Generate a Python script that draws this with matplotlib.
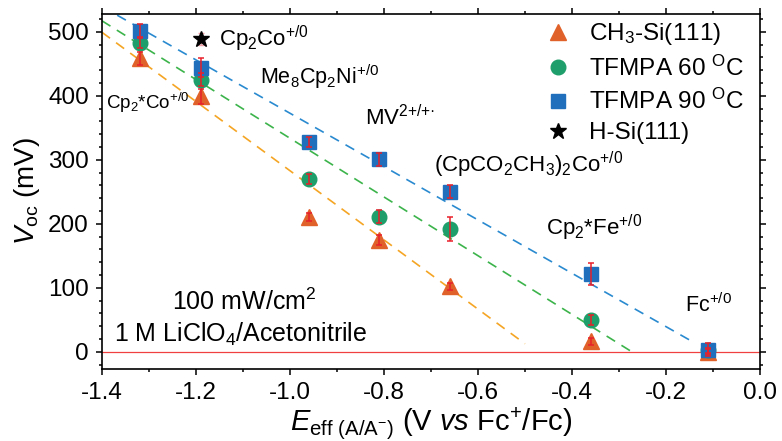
import numpy as np
import matplotlib
matplotlib.use("Agg")
from matplotlib import pyplot as plt

plt.rcParams['font.family'] = ['Liberation Sans', 'DejaVu Sans']
plt.rcParams['mathtext.fontset'] = 'custom'
plt.rcParams['mathtext.rm'] = 'Liberation Sans'
plt.rcParams['mathtext.it'] = 'Liberation Sans:italic'
plt.rcParams['mathtext.bf'] = 'Liberation Sans:bold'

# E_eff of each redox couple (V vs Fc+/Fc)
e_eff = [-1.32, -1.19, -0.96, -0.81, -0.66, -0.36, -0.11]

# Voc (mV) and error bars
ch3_voc = [459, 399, 211, 175, 102, 16, 0]
ch3_err = [10, 12, 6, 8, 6, 6, 4]
tf60_voc = [483, 425, 270, 211, 192, 50, 2]
tf60_err = [8, 10, 8, 10, 19, 8, 4]
tf90_voc = [502, 444, 328, 301, 250, 122, 3]
tf90_err = [10, 15, 8, 10, 10, 17, 10]
hsi_x = [-1.19]
hsi_voc = [489]
hsi_err = [10]

# linear fits: slope (mV/V), zero crossing (V), end of dashed line (V)
fit_slope = [-541, -459, -417]
fit_x0 = [-0.477, -0.273, -0.106]
fit_xend = [-0.50, -0.273, -0.15]
fit_colors = ['#f5a524', '#3cb44b', '#2a8ad0']

xtick_vals = [-1.4, -1.2, -1.0, -0.8, -0.6, -0.4, -0.2, 0.0]
xtick_labels = ['-1.4', '-1.2', '-1.0', '-0.8', '-0.6', '-0.4', '-0.2', '0.0']
ytick_vals = [0, 100, 200, 300, 400, 500]

# couple names
couple_labels = [r'Cp$_2$Co$^{+/0}$', r'Me$_8$Cp$_2$Ni$^{+/0}$', r'Cp$_2$*Co$^{+/0}$',
                 r'MV$^{2{+}/{+}·}$', r'(CpCO$_2$CH$_3$)$_2$Co$^{+/0}$',
                 r'Cp$_2$*Fe$^{+/0}$', r'Fc$^{+/0}$']
couple_pos = [(-1.15, 489), (-1.063, 430), (-1.392, 389), (-0.841, 366),
              (-0.693, 292), (-0.455, 194), (-0.159, 72)]
couple_size = [16, 15.5, 13.5, 16, 16, 16, 15.5]

fig = plt.figure(figsize=(7.82, 4.41), dpi=100)
ax = fig.add_axes([0.1304, 0.1633, 0.8415, 0.805])

ax.axhline(0, color='#f04040', lw=0.9, zorder=1)

for s, x0, xe, c in zip(fit_slope, fit_x0, fit_xend, fit_colors):
    xs = np.linspace(-1.4, xe, 50)
    ax.plot(xs, s * (xs - x0), ls=(0, (6, 4.5)), color=c, lw=1.2, zorder=2)

ax.plot(e_eff, ch3_voc, '^', ms=12, color='#e0622a', ls='none', label='CH$_3$-Si(111)', zorder=3)
ax.plot(e_eff, tf60_voc, 'o', ms=10.5, color='#1e9e6a', ls='none', label='TFMPA 60 $^{\\rm O}$C', zorder=4)
ax.plot(e_eff, tf90_voc, 's', ms=9.5, color='#1f6fbd', ls='none', label='TFMPA 90 $^{\\rm O}$C', zorder=5)
ax.plot(hsi_x, hsi_voc, '*', ms=12, color='black', ls='none', label='H-Si(111)', zorder=5)

errkw = dict(fmt='none', ecolor='#e8202a', elinewidth=1.1, capsize=2.5, capthick=1.1)
ax.errorbar(e_eff, ch3_voc, yerr=ch3_err, zorder=6, **errkw)
ax.errorbar(e_eff, tf60_voc, yerr=tf60_err, zorder=6, **errkw)
ax.errorbar(e_eff, tf90_voc, yerr=tf90_err, zorder=6, **errkw)
ax.errorbar(hsi_x, hsi_voc, yerr=hsi_err, fmt='none', ecolor='#f4a0a8', elinewidth=0.9,
            capsize=2, zorder=4)

for lab, (x, y), fs in zip(couple_labels, couple_pos, couple_size):
    ax.text(x, y, lab, fontsize=fs, ha='left', va='center')

ax.text(-1.25, 78, r'100 mW/cm$^2$', fontsize=18, ha='left', va='center')
ax.text(-1.375, 27, r'1 M LiClO$_4$/Acetonitrile', fontsize=18, ha='left', va='center')

ax.set_xlim(-1.4, 0.0)
ax.set_ylim(-27, 528)
ax.set_xticks(xtick_vals)
ax.set_xticklabels(xtick_labels)
ax.set_xticks(np.arange(-1.3, 0.0, 0.2), minor=True)
ax.set_yticks(ytick_vals)
ax.set_yticks(np.arange(-20, 521, 20), minor=True)
ax.tick_params(which='both', direction='out', top=True, right=True, labelsize=17.5, width=1.1)
ax.tick_params(which='major', length=4.5, pad=5)
ax.tick_params(which='minor', length=2.5)
for sp in ax.spines.values():
    sp.set_linewidth(1.2)

ax.set_xlabel(r'$E_{\rm eff\ (A/A^{-})}$ (V $vs$ Fc$^{+}$/Fc)', fontsize=21, labelpad=1)
ax.set_ylabel(r'$V_{\rm oc}$ (mV)', fontsize=20, labelpad=4)

ax.legend(loc='upper left', bbox_to_anchor=(0.663, 1.0), frameon=False, fontsize=17.5,
          handlelength=1.0, handletextpad=0.8, labelspacing=0.34, borderaxespad=0.0,
          borderpad=0.3)

fig.savefig('out.png', dpi=100)
